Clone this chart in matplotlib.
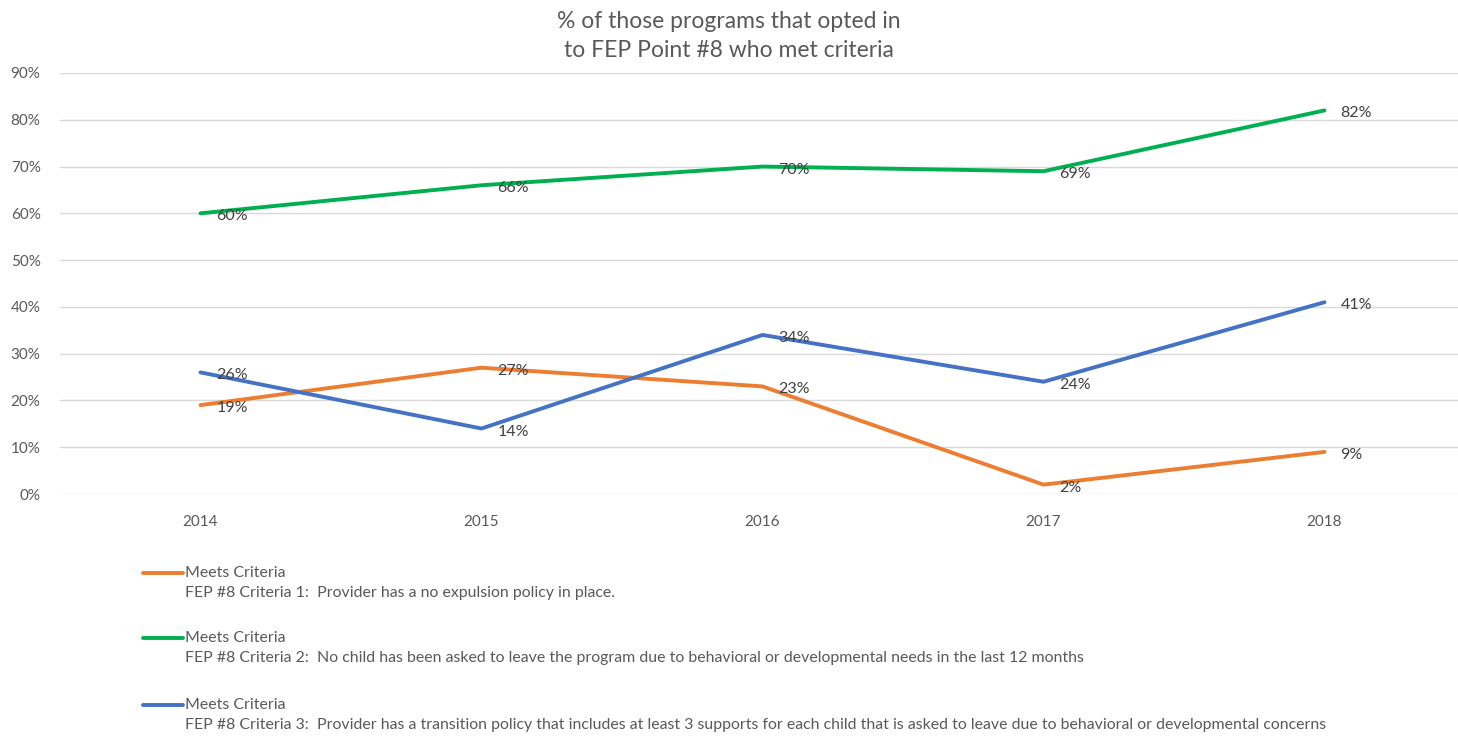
import matplotlib.pyplot as plt
from matplotlib.lines import Line2D
from matplotlib.ticker import PercentFormatter

plt.rcParams['font.family'] = ['Lato', 'DejaVu Sans']

years = ['2014', '2015', '2016', '2017', '2018']
crit1 = [19, 27, 23, 2, 9]
crit2 = [60, 66, 70, 69, 82]
crit3 = [26, 14, 34, 24, 41]

series_colors = ['#ED7D31', '#00B050', '#4472C4']
legend_title = 'Meets Criteria'
legend_desc = [
    'FEP #8 Criteria 1:  Provider has a no expulsion policy in place.',
    'FEP #8 Criteria 2:  No child has been asked to leave the program due to behavioral or developmental needs in the last 12 months',
    'FEP #8 Criteria 3:  Provider has a transition policy that includes at least 3 supports for each child that is asked to leave due to behavioral or developmental concerns',
]
title = '% of those programs that opted in\nto FEP Point #8 who met criteria'

W, H = 1458, 736
fig = plt.figure(figsize=(W / 100, H / 100), dpi=100)
ax = fig.add_axes([60 / W, 242 / H, 1405 / W, 421 / H])

x = list(range(len(years)))
for vals, c in zip([crit1, crit2, crit3], series_colors):
    ax.plot(x, [v / 100 for v in vals], color=c, lw=2.8, solid_capstyle='round', zorder=3)
    for xi, v in zip(x, vals):
        ax.annotate(f'{v}%', (xi, v / 100), xytext=(16, -3), textcoords='offset pixels',
                    ha='left', va='center', fontsize=11.5, color='#404040', zorder=4)

ax.set_xlim(-0.5, len(years) - 0.5)
ax.set_ylim(0, 0.9)
ax.set_yticks([i / 10 for i in range(10)])
ax.yaxis.set_major_formatter(PercentFormatter(1.0, decimals=0))
ax.set_xticks(x)
ax.set_xticklabels(years)
ax.tick_params(length=0, labelsize=11, labelcolor='#595959')
ax.tick_params(axis='x', pad=15)
ax.tick_params(axis='y', pad=14)
ax.grid(axis='y', color='#D9D9D9', lw=1)
ax.set_axisbelow(True)
for s in ax.spines.values():
    s.set_visible(False)

fig.text(729 / W, 1 - 36 / H, title, ha='center', va='center', fontsize=16.5,
         color='#595959', linespacing=1.45)

# legend block
rows = [573, 638, 705]
for y0, c, desc in zip(rows, series_colors, legend_desc):
    fig.add_artist(Line2D([143 / W, 183 / W], [1 - y0 / H, 1 - y0 / H], color=c, lw=2.8,
                          solid_capstyle='round'))
    fig.text(185 / W, 1 - y0 / H, legend_title, ha='left', va='center', fontsize=11.4,
             color='#595959')
    fig.text(185 / W, 1 - (y0 + 20) / H, desc, ha='left', va='center', fontsize=11.4,
             color='#595959')

fig.savefig('out.png', dpi=100)
